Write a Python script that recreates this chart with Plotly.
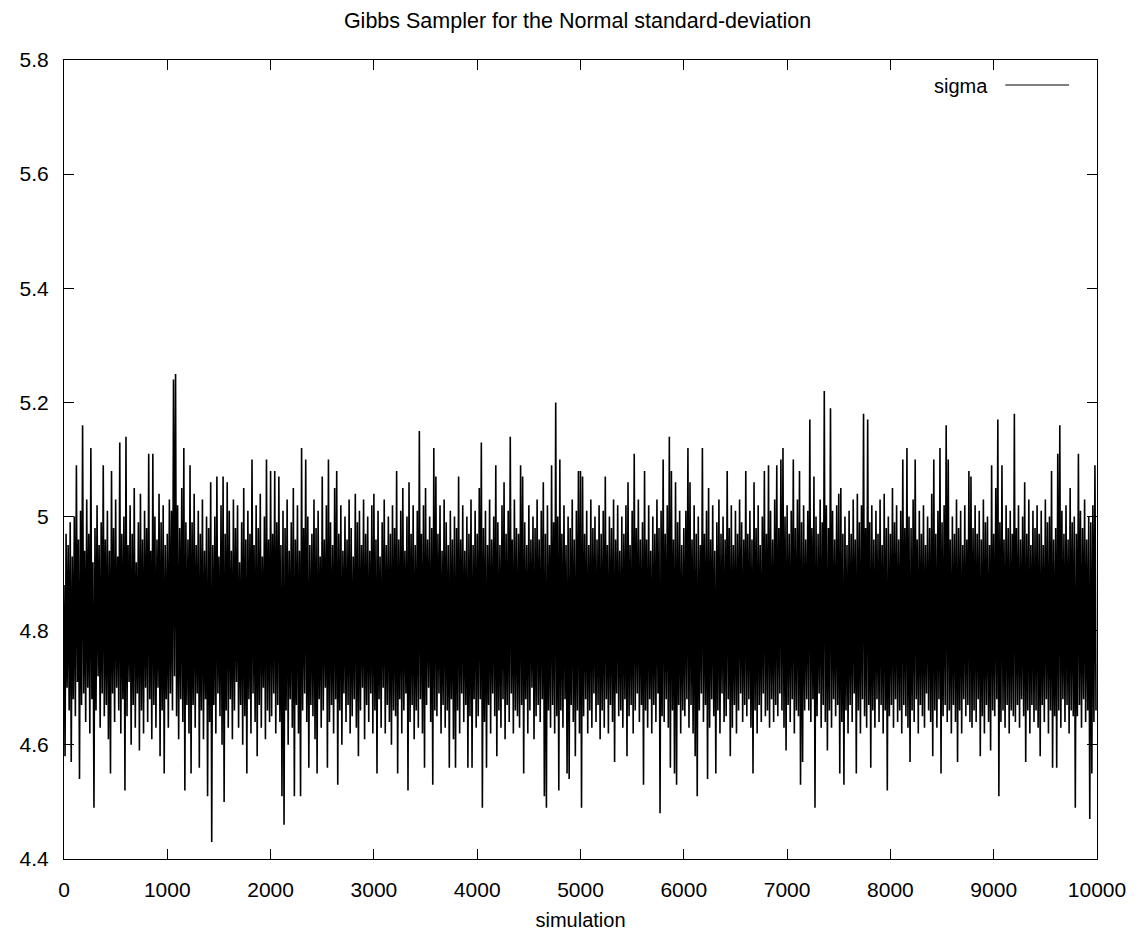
import plotly.graph_objects as go

# Sampled trace of the Gibbs sampler for sigma, read off the chart every 10 simulations
# (pairs alternate between the upper and lower extent seen at each pixel column)
sigma = [
    4.88, 4.58, 4.97, 4.70, 4.95, 4.66, 4.99, 4.57, 4.93, 4.68, 5.00, 4.65, 5.09, 4.71, 4.96, 4.54, 5.01, 4.67, 5.16, 4.69,
    4.94, 4.64, 5.03, 4.70, 4.97, 4.62, 5.12, 4.68, 4.92, 4.49, 4.98, 4.66, 5.02, 4.72, 4.95, 4.63, 4.99, 4.69, 5.09, 4.65,
    4.96, 4.67, 5.01, 4.61, 4.94, 4.55, 5.08, 4.69, 4.98, 4.64, 5.03, 4.70, 4.93, 4.66, 5.13, 4.62, 4.97, 4.68, 5.00, 4.52,
    5.14, 4.65, 4.95, 4.71, 5.02, 4.60, 4.97, 4.67, 5.05, 4.63, 4.92, 4.69, 4.99, 4.59, 5.04, 4.66, 4.96, 4.62, 5.01, 4.70,
    4.98, 4.64, 5.11, 4.68, 4.94, 4.61, 5.11, 4.67, 5.00, 4.63, 4.96, 4.70, 5.04, 4.58, 4.99, 4.66, 5.02, 4.55, 4.95, 4.68,
    4.97, 4.63, 5.03, 4.69, 5.01, 4.66, 5.24, 4.72, 5.25, 4.65, 5.02, 4.61, 4.98, 4.68, 5.05, 4.64, 5.12, 4.52, 4.99, 4.67,
    4.96, 4.62, 5.09, 4.55, 4.99, 4.67, 5.04, 4.63, 4.95, 4.69, 5.01, 4.56, 4.97, 4.66, 5.03, 4.61, 4.94, 4.68, 5.00, 4.51,
    4.98, 4.64, 5.06, 4.43, 4.95, 4.67, 5.00, 4.62, 5.07, 4.69, 4.93, 4.65, 5.02, 4.60, 5.07, 4.50, 4.97, 4.66, 5.06, 4.63,
    5.01, 4.68, 4.94, 4.61, 5.03, 4.66, 4.98, 4.71, 5.02, 4.63, 4.92, 4.67, 4.99, 4.60, 5.05, 4.65, 4.96, 4.55, 5.01, 4.68,
    4.97, 4.62, 5.10, 4.69, 4.95, 4.64, 5.02, 4.58, 4.98, 4.67, 5.04, 4.63, 4.93, 4.70, 5.00, 4.61, 5.10, 4.66, 4.96, 4.64,
    5.08, 4.65, 4.97, 4.69, 5.08, 4.62, 4.99, 4.67, 5.07, 4.64, 4.95, 4.51, 5.01, 4.46, 4.98, 4.66, 5.03, 4.60, 4.94, 4.68,
    4.99, 4.63, 5.05, 4.51, 4.96, 4.67, 5.02, 4.62, 4.94, 4.51, 5.12, 4.66, 4.98, 4.69, 5.10, 4.64, 5.00, 4.56, 4.95, 4.67,
    4.97, 4.65, 5.03, 4.61, 4.98, 4.55, 5.01, 4.68, 4.93, 4.63, 5.07, 4.66, 4.96, 4.70, 5.02, 4.56, 5.10, 4.64, 4.99, 4.67,
    4.95, 4.62, 5.05, 4.68, 5.08, 4.53, 4.97, 4.66, 5.02, 4.60, 4.94, 4.69, 5.00, 4.64, 4.96, 4.67, 5.03, 4.62, 4.98, 4.65,
    4.93, 4.68, 5.04, 4.63, 4.99, 4.58, 5.01, 4.66, 4.95, 4.70, 5.03, 4.61, 4.97, 4.67, 5.00, 4.64, 4.94, 4.69, 5.02, 4.62,
    5.04, 4.66, 4.96, 4.55, 5.01, 4.68, 4.93, 4.63, 4.99, 4.70, 5.03, 4.62, 4.95, 4.67, 5.00, 4.64, 4.97, 4.60, 5.02, 4.66,
    4.98, 4.65, 5.08, 4.55, 4.96, 4.68, 5.01, 4.62, 5.05, 4.66, 4.94, 4.69, 5.00, 4.52, 5.06, 4.64, 4.97, 4.67, 5.02, 4.61,
    4.95, 4.66, 5.01, 4.63, 5.15, 4.68, 4.97, 4.62, 5.02, 4.56, 5.05, 4.67, 4.96, 4.70, 5.00, 4.64, 4.98, 4.53, 5.12, 4.66,
    5.07, 4.65, 4.97, 4.69, 5.02, 4.62, 4.94, 4.67, 5.03, 4.63, 4.99, 4.66, 4.95, 4.56, 5.01, 4.68, 4.96, 4.61, 5.00, 4.56,
    4.98, 4.66, 5.07, 4.62, 4.96, 4.69, 5.02, 4.64, 4.94, 4.67, 5.00, 4.56, 4.97, 4.65, 5.03, 4.56, 4.95, 4.68, 5.01, 4.63,
    4.97, 4.65, 5.05, 4.68, 5.13, 4.49, 4.98, 4.64, 5.01, 4.56, 4.95, 4.67, 5.03, 4.62, 4.96, 4.69, 5.00, 4.65, 5.09, 4.58,
    4.99, 4.66, 4.95, 4.63, 5.02, 4.68, 5.06, 4.61, 4.97, 4.67, 5.01, 4.64, 5.14, 4.69, 4.96, 4.62, 5.03, 4.66, 4.98, 4.65,
    4.97, 4.63, 5.09, 4.67, 5.07, 4.55, 4.99, 4.68, 4.95, 4.62, 5.02, 4.66, 4.96, 4.70, 5.00, 4.61, 4.98, 4.65, 5.03, 4.67,
    4.96, 4.64, 5.01, 4.68, 5.06, 4.51, 4.97, 4.49, 5.02, 4.66, 4.95, 4.63, 5.09, 4.67, 4.99, 4.62, 5.20, 4.65, 5.00, 4.52,
    5.10, 4.66, 4.97, 4.63, 5.02, 4.68, 4.95, 4.55, 5.00, 4.54, 4.98, 4.67, 5.03, 4.64, 4.96, 4.58, 5.01, 4.66, 5.08, 4.62,
    5.08, 4.49, 5.07, 4.65, 4.97, 4.68, 5.01, 4.62, 4.95, 4.66, 5.03, 4.63, 4.98, 4.69, 5.00, 4.64, 4.96, 4.67, 5.02, 4.61,
    4.97, 4.66, 5.01, 4.63, 5.07, 4.68, 4.95, 4.62, 5.00, 4.67, 4.98, 4.64, 5.03, 4.57, 4.96, 4.69, 5.02, 4.65, 4.94, 4.66,
    5.00, 4.63, 4.97, 4.68, 5.02, 4.58, 5.06, 4.65, 4.95, 4.67, 5.01, 4.62, 5.11, 4.66, 4.98, 4.69, 5.03, 4.64, 4.96, 4.67,
    4.99, 4.53, 5.08, 4.66, 4.96, 4.63, 5.02, 4.68, 4.94, 4.62, 5.00, 4.67, 4.97, 4.64, 5.03, 4.69, 4.98, 4.48, 5.01, 4.65,
    5.10, 4.64, 4.97, 4.68, 5.02, 4.63, 5.14, 4.56, 5.08, 4.66, 4.96, 4.55, 5.06, 4.53, 4.99, 4.67, 5.01, 4.62, 4.95, 4.66,
    4.98, 4.65, 5.01, 4.68, 5.12, 4.63, 5.06, 4.67, 4.96, 4.62, 5.02, 4.58, 4.97, 4.51, 5.00, 4.66, 4.95, 4.69, 5.12, 4.64,
    4.97, 4.67, 5.01, 4.54, 5.05, 4.63, 4.96, 4.68, 5.02, 4.65, 4.94, 4.55, 4.99, 4.66, 5.03, 4.62, 4.97, 4.69, 5.00, 4.64,
    4.96, 4.65, 5.08, 4.68, 4.98, 4.58, 5.02, 4.63, 4.95, 4.67, 5.01, 4.62, 4.97, 4.66, 5.03, 4.69, 4.99, 4.64, 4.96, 4.67,
    5.08, 4.65, 4.97, 4.68, 5.01, 4.63, 4.96, 4.55, 5.06, 4.66, 4.98, 4.62, 5.02, 4.67, 4.95, 4.64, 5.00, 4.69, 5.08, 4.65,
    4.97, 4.66, 5.09, 4.63, 5.01, 4.68, 4.96, 4.64, 5.03, 4.67, 5.09, 4.65, 4.98, 4.69, 5.10, 4.66, 5.12, 4.63, 5.00, 4.59,
    5.02, 4.67, 4.97, 4.64, 5.01, 4.68, 5.10, 4.62, 4.98, 4.66, 5.03, 4.65, 5.08, 4.53, 4.99, 4.57, 5.02, 4.66, 4.96, 4.68,
    5.01, 4.66, 5.17, 4.64, 4.98, 4.68, 5.07, 4.49, 5.00, 4.65, 4.97, 4.69, 5.03, 4.63, 4.99, 4.67, 5.22, 4.64, 5.02, 4.59,
    4.98, 4.66, 5.19, 4.63, 5.01, 4.68, 4.96, 4.65, 5.02, 4.67, 5.04, 4.55, 5.05, 4.64, 4.97, 4.53, 5.00, 4.66, 4.95, 4.62,
    5.01, 4.67, 4.97, 4.64, 5.03, 4.69, 4.96, 4.55, 5.04, 4.66, 4.99, 4.62, 5.02, 4.68, 5.18, 4.65, 4.98, 4.63, 5.17, 4.67,
    4.99, 4.56, 5.02, 4.66, 4.96, 4.63, 5.01, 4.68, 4.97, 4.64, 5.03, 4.67, 4.95, 4.62, 5.04, 4.66, 4.98, 4.52, 5.00, 4.65,
    4.97, 4.67, 5.05, 4.63, 4.99, 4.68, 5.02, 4.64, 4.96, 4.66, 5.01, 4.62, 5.10, 4.67, 4.98, 4.65, 5.12, 4.63, 5.00, 4.57,
    4.98, 4.66, 5.03, 4.64, 5.10, 4.68, 4.96, 4.62, 5.01, 4.67, 4.97, 4.65, 5.02, 4.63, 4.95, 4.69, 5.00, 4.66, 4.98, 4.64,
    5.04, 4.58, 5.10, 4.66, 4.97, 4.63, 5.01, 4.68, 5.12, 4.55, 4.99, 4.65, 5.02, 4.67, 5.16, 4.64, 5.10, 4.66, 4.96, 4.62,
    5.00, 4.67, 4.97, 4.64, 5.03, 4.57, 4.98, 4.66, 5.01, 4.62, 4.95, 4.68, 5.02, 4.65, 4.96, 4.67, 5.08, 4.64, 5.07, 4.63,
    4.98, 4.66, 5.02, 4.64, 4.97, 4.68, 5.01, 4.58, 4.96, 4.65, 5.03, 4.62, 4.99, 4.67, 5.00, 4.64, 4.95, 4.59, 5.09, 4.66,
    4.97, 4.65, 5.05, 4.68, 5.17, 4.51, 4.99, 4.64, 5.09, 4.66, 4.96, 4.63, 5.02, 4.67, 4.98, 4.62, 5.01, 4.66, 4.97, 4.65,
    5.18, 4.64, 4.98, 4.67, 5.02, 4.63, 4.96, 4.68, 5.00, 4.65, 5.06, 4.57, 4.97, 4.66, 5.03, 4.62, 4.95, 4.67, 5.01, 4.64,
    4.98, 4.66, 5.02, 4.63, 4.97, 4.58, 5.01, 4.67, 4.95, 4.64, 5.03, 4.68, 4.99, 4.62, 5.00, 4.66, 5.08, 4.56, 4.96, 4.65,
    4.98, 4.56, 5.11, 4.66, 5.16, 4.63, 5.01, 4.68, 4.97, 4.64, 5.02, 4.67, 4.96, 4.62, 5.05, 4.66, 4.99, 4.65, 5.00, 4.49,
    4.97, 4.65, 5.11, 4.67, 5.01, 4.63, 4.98, 4.68, 5.03, 4.64, 4.96, 4.66, 5.00, 4.47, 4.99, 4.55, 5.02, 4.64, 5.09, 4.66,
]
simulation = list(range(0, 10 * len(sigma), 10))

x_ticks = [0, 1000, 2000, 3000, 4000, 5000, 6000, 7000, 8000, 9000, 10000]
y_ticks = [4.4, 4.6, 4.8, 5.0, 5.2, 5.4, 5.6, 5.8]
y_labels = ["4.4", "4.6", "4.8", "5", "5.2", "5.4", "5.6", "5.8"]

FONT = "Liberation Sans, Arial, sans-serif"

fig = go.Figure()
fig.add_trace(go.Scatter(
    x=simulation, y=sigma, mode="lines", name="sigma",
    line=dict(color="black", width=1.6), showlegend=False,
))

axis_common = dict(
    showline=True, linecolor="black", linewidth=1, mirror="allticks",
    ticks="inside", ticklen=10, tickwidth=1, tickcolor="black",
    showgrid=False, zeroline=False,
    tickfont=dict(family=FONT, size=21, color="black"),
)

fig.update_layout(
    width=1139, height=936,
    paper_bgcolor="white", plot_bgcolor="white",
    margin=dict(l=53, r=50, t=52, b=85),
    title=dict(
        text="Gibbs Sampler for the Normal standard-deviation",
        x=0.5, xanchor="center", y=1 - 12 / 936, yanchor="middle", yref="container",
        font=dict(family=FONT, size=21.5, color="black"),
    ),
    xaxis=dict(
        range=[0, 10000], tickvals=x_ticks, ticktext=[str(v) for v in x_ticks],
        title=dict(text="simulation", font=dict(family=FONT, size=20, color="black"), standoff=12),
        ticklabelstandoff=12,
        **axis_common,
    ),
    yaxis=dict(
        range=[4.4, 5.8], tickvals=y_ticks, ticktext=y_labels,
        ticklabelstandoff=10,
        **axis_common,
    ),
    showlegend=False,
)

# gnuplot-style key: label followed by a line sample
fig.add_annotation(
    x=0.8967, y=0.9675, xref="paper", yref="paper", text="sigma",
    showarrow=False, xanchor="right", yanchor="middle",
    font=dict(family=FONT, size=20, color="black"),
)
fig.add_shape(
    type="line", xref="paper", yref="paper",
    x0=0.9112, x1=0.973, y0=0.9687, y1=0.9687,
    line=dict(color="black", width=1),
)

fig.write_html("out.html")
